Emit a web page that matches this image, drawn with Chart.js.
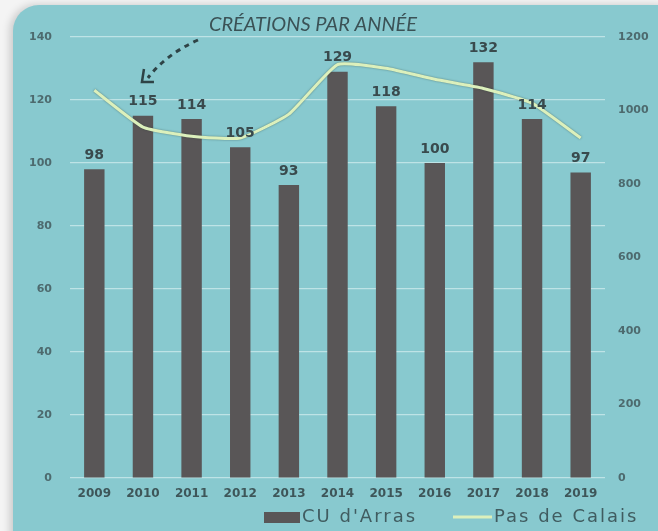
<!DOCTYPE html>
<html>
<head>
<meta charset="utf-8">
<script src="https://cdn.jsdelivr.net/npm/chart.js@4.4.0/dist/chart.umd.min.js"></script>
<style>
    html, body { margin: 0; padding: 0; background: #f4f4f4; }
    #wrap { position: relative; width: 658px; height: 531px; overflow: hidden; }
    #panel {
        position: absolute; left: 13px; top: 5px; width: 670px; height: 560px;
        background: #88c9cf; border-radius: 26px;
        box-shadow: -3px 0 8px rgba(0, 0, 0, 0.18);
    }
    #chart { position: absolute; left: 0; top: 0; }
</style>
</head>
<body>
<div id="wrap">
    <div id="panel"></div>
    <canvas id="chart" width="658" height="531"></canvas>
</div>
<script>
const years = ['2009', '2010', '2011', '2012', '2013', '2014', '2015', '2016', '2017', '2018', '2019'];
const arrasValues = [98, 115, 114, 105, 93, 129, 118, 100, 132, 114, 97];
const calaisValues = [1055, 955, 930, 925, 990, 1125, 1115, 1085, 1060, 1020, 925];
const leftTicks = [0, 20, 40, 60, 80, 100, 120, 140];
const rightTicks = [0, 200, 400, 600, 800, 1000, 1200];
const chartTitle = 'CRÉATIONS PAR ANNÉE';

const textColor = '#3e5659';
const tickColor = '#4d6a6e';
const tickFont = { family: '"DejaVu Sans"', size: 11, weight: '600' };

// value labels, title, dashed arrow and legend
const overlayPlugin = {
    id: 'overlay',
    beforeDatasetDraw(chart, args) {
        if (args.meta.type === 'line') {
            chart.ctx.save();
            chart.ctx.shadowColor = 'rgba(40, 60, 50, 0.55)';
            chart.ctx.shadowBlur = 2;
        }
    },
    afterDatasetDraw(chart, args) {
        if (args.meta.type === 'line') chart.ctx.restore();
    },
    afterDatasetsDraw(chart) {
        const ctx = chart.ctx;
        const meta = chart.getDatasetMeta(0);
        ctx.save();
        ctx.fillStyle = '#394a4d';
        ctx.font = 'bold 14px "DejaVu Sans"';
        ctx.textAlign = 'center';
        ctx.textBaseline = 'bottom';
        meta.data.forEach((bar, i) => {
            ctx.fillText(arrasValues[i], bar.x, bar.y - 7);
        });

        const area = chart.chartArea;
        ctx.font = 'italic 20px Lato';
        ctx.fillStyle = '#3b5256';
        ctx.textBaseline = 'middle';
        ctx.fillText(chartTitle, 313, area.top - 12);

        // dashed arrow pointing at 2010
        const tip = meta.data[1];
        const tx = tip.x + 2, ty = area.top + 44;
        ctx.strokeStyle = '#2e4346';
        ctx.lineWidth = 3;
        ctx.setLineDash([5, 5]);
        ctx.beginPath();
        ctx.moveTo(198, area.top + 3);
        ctx.quadraticCurveTo(165, area.top + 18, tx + 3, ty - 3);
        ctx.stroke();
        ctx.setLineDash([]);
        ctx.lineWidth = 2.5;
        ctx.beginPath();
        ctx.moveTo(tx - 1, ty - 12);
        ctx.lineTo(tx - 3, ty + 1);
        ctx.lineTo(tx + 9, ty + 1);
        ctx.stroke();

        // legend
        const ds = chart.data.datasets;
        const ly = 517;
        ctx.textAlign = 'left';
        ctx.font = '18px "DejaVu Sans"';
        ctx.letterSpacing = '2px';
        ctx.fillStyle = ds[0].backgroundColor;
        ctx.fillRect(264, ly - 5, 36, 11);
        ctx.fillStyle = '#405c60';
        ctx.fillText(ds[0].label, 302, ly);
        ctx.strokeStyle = ds[1].borderColor;
        ctx.lineWidth = 3;
        ctx.beginPath();
        ctx.moveTo(453, ly);
        ctx.lineTo(492, ly);
        ctx.stroke();
        ctx.fillText(ds[1].label, 494, ly);
        ctx.restore();
    }
};

new Chart(document.getElementById('chart'), {
    data: {
        labels: years,
        datasets: [{
            type: 'bar',
            label: "CU d'Arras",
            data: arrasValues,
            backgroundColor: '#595657',
            borderWidth: 0,
            barPercentage: 0.42,
            categoryPercentage: 1,
            yAxisID: 'y',
            order: 1
        }, {
            type: 'line',
            label: 'Pas de Calais',
            data: calaisValues,
            borderColor: '#dcf0bc',
            backgroundColor: '#dcf0bc',
            borderWidth: 3,
            pointRadius: 0,
            tension: 0.15,
            yAxisID: 'y1',
            order: 0
        }]
    },
    options: {
        responsive: false,
        animation: false,
        layout: { padding: { top: 37, left: 0, right: 0, bottom: 27 } },
        plugins: {
            title: { display: false },
            tooltip: { enabled: false },
            legend: { display: false }
        },
        scales: {
            x: {
                grid: { display: false },
                border: { display: false },
                ticks: {
                    color: textColor,
                    font: { family: '"DejaVu Sans"', size: 12, weight: '600' },
                    padding: 1
                },
                afterFit(scale) { scale.height = 26; }
            },
            y: {
                position: 'left',
                min: 0,
                max: 140,
                afterBuildTicks(scale) { scale.ticks = leftTicks.map(v => ({ value: v })); },
                grid: { color: 'rgba(235, 248, 250, 0.55)', lineWidth: 1.2, drawTicks: false },
                border: { display: false },
                ticks: { color: tickColor, font: tickFont, padding: 18 },
                afterFit(scale) { scale.width = 70; }
            },
            y1: {
                position: 'right',
                min: 0,
                max: 1200,
                afterBuildTicks(scale) { scale.ticks = rightTicks.map(v => ({ value: v })); },
                grid: { display: false, drawTicks: false },
                border: { display: false },
                ticks: { color: tickColor, font: tickFont, padding: 13, callback: v => String(v) },
                afterFit(scale) { scale.width = 53; }
            }
        }
    },
    plugins: [overlayPlugin]
});
</script>
</body>
</html>
